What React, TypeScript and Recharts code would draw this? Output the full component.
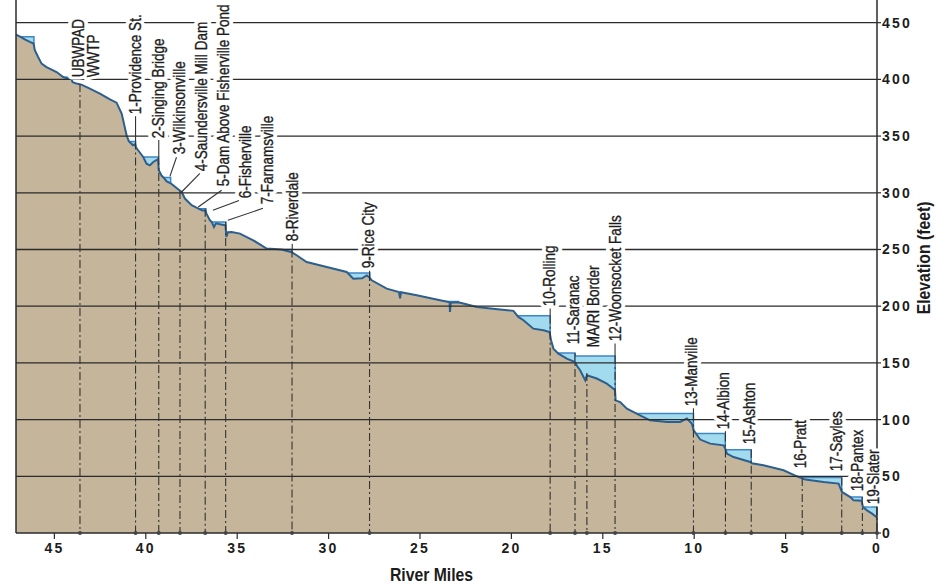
import React from 'react';
import { ComposedChart, Area, XAxis, YAxis, ReferenceLine, ReferenceDot, Label } from 'recharts';

// Axis ticks
const riverMileTicks = [0, 5, 10, 15, 20, 25, 30, 35, 40, 45];
const elevationTicks = [0, 50, 100, 150, 200, 250, 300, 350, 400, 450];
const gridElevations = [50, 100, 150, 200, 250, 300, 350, 400, 450];

// Channel profile: [river mile, elevation (ft)]
const channelProfile: [number, number][] = [
  [47.1, 439.5], [46.85, 437.5], [46.62, 435.3], [46.34, 433.0], [46.14, 431.6], [46.07, 425.7],
  [45.89, 419.7], [45.7, 413.9], [45.43, 410.9], [44.88, 406.5], [44.52, 402.1], [44.3, 401.0],
  [44.07, 400.1], [44.0, 397.5], [43.79, 396.3], [43.52, 395.4], [43.06, 391.9], [42.51, 387.5],
  [41.96, 382.4], [41.6, 379.5], [41.32, 369.8], [41.05, 350.7], [40.93, 345.5], [40.7, 341.9],
  [40.58, 342.8], [40.54, 340.1], [40.42, 337.5], [40.14, 331.6], [39.96, 325.7], [39.78, 324.2],
  [39.59, 327.2], [39.33, 329.6], [39.29, 320.0], [39.13, 315.0], [39.0, 313.0], [38.86, 310.1],
  [38.66, 308.6], [38.5, 306.6], [38.23, 303.1], [38.04, 300.7], [37.86, 294.9], [37.49, 289.0],
  [37.17, 286.5], [36.93, 284.6], [36.73, 284.1], [36.68, 281.6], [36.49, 275.7], [36.38, 274.0],
  [36.27, 269.8], [36.16, 273.1], [35.94, 272.2], [35.64, 271.3], [35.59, 261.0], [35.51, 265.2],
  [35.3, 265.4], [34.85, 264.0], [34.12, 258.1], [33.39, 250.8], [32.57, 249.9], [32.22, 248.4],
  [32.0, 247.5], [31.75, 244.9], [31.2, 239.0], [30.1, 234.6], [29.01, 230.2], [28.65, 224.3],
  [28.17, 224.6], [27.91, 227.2], [27.76, 225.4], [27.64, 222.8], [26.82, 215.5], [26.15, 212.5],
  [26.09, 207.0], [26.04, 212.3], [25.18, 209.6], [23.9, 205.2], [23.63, 204.3], [23.38, 203.4],
  [23.36, 195.0], [23.32, 203.0], [22.92, 203.4], [22.63, 202.3], [21.89, 199.3], [20.62, 197.0],
  [19.89, 195.9], [19.62, 190.5], [19.34, 187.6], [18.8, 180.2], [18.25, 178.7], [17.91, 177.2],
  [17.83, 169.9], [17.7, 162.6], [17.43, 158.2], [16.97, 153.8], [16.52, 150.8], [16.4, 147.0],
  [16.24, 143.5], [15.96, 134.6], [15.87, 139.1], [15.33, 136.2], [14.78, 131.7], [14.42, 127.3],
  [14.33, 125.8], [14.3, 117.0], [14.05, 115.5], [13.68, 109.7], [12.96, 103.8], [12.41, 99.4],
  [11.49, 97.9], [10.77, 97.9], [10.4, 100.9], [10.13, 96.5], [10.03, 90.6], [9.67, 82.4],
  [9.12, 78.8], [8.4, 77.3], [8.3, 74.4], [8.21, 70.0], [7.85, 67.0], [6.93, 62.6], [6.85, 61.5],
  [6.21, 59.7], [5.11, 55.3], [4.38, 50.0], [3.92, 47.1], [2.92, 45.0], [2.1, 43.6], [1.96, 37.7],
  [1.92, 36.2], [1.46, 31.7], [1.28, 28.8], [0.84, 28.4], [0.77, 22.9], [0.55, 20.0], [0.27, 17.1],
  [0.0, 13.6],
];

// Impoundments: [upstream end mile, dam mile, pool elevation (ft)]
const impoundments: [number, number, number][] = [
  [46.85, 46.12, 437.5], [44.4, 44.05, 401.8], [40.93, 40.56, 345.2], [40.14, 39.31, 331.6],
  [39.0, 38.64, 313.5], [37.17, 36.71, 286.0], [36.4, 35.62, 274.2], [32.57, 31.99, 249.9],
  [29.0, 27.74, 229.3], [23.74, 22.9, 204.2], [19.74, 17.88, 191.5], [17.45, 16.52, 158.7],
  [16.52, 14.32, 156.1], [13.2, 10.04, 105.3], [10.04, 8.3, 87.7], [8.25, 6.88, 73.5],
  [4.4, 1.93, 48.9], [1.46, 0.82, 31.7], [0.77, 0.0, 22.9],
];

// Structure markers: [river mile, top of marker line (ft)]
const structureMarkers: [number, number][] = [
  [43.6, 396], [40.56, 345.2], [39.29, 331.6], [38.13, 301.5], [36.75, 286.0], [35.63, 274.2],
  [32.0, 249.9], [27.76, 229.3], [17.88, 191.5], [16.52, 158.7], [15.87, 141.0], [14.33, 156.1],
  [10.04, 105.3], [8.29, 87.7], [6.88, 73.5], [4.09, 48.5], [1.93, 48.9], [0.8, 31.7], [0.0, 22.9],
];

// Dam names
const damNames: string[][] = [
  ['UBWPAD', 'WWTP'], ['1-Providence St.'], ['2-Singing Bridge'], ['3-Wilkinsonville'],
  ['4-Saundersville Mill Dam'], ['5-Dam Above Fisherville Pond'], ['6-Fisherville'],
  ['7-Farnamsville'], ['8-Riverdale'], ['9-Rice City'], ['10-Rolling'], ['11-Saranac'],
  ['MA/RI Border'], ['12-Woonsocket Falls'], ['13-Manville'], ['14-Albion'], ['15-Ashton'],
  ['16-Pratt'], ['17-Sayles'], ['18-Pantex'], ['19-Slater'],
];

// Where each name sits (foot of the rotated text), in [mile, ft]
const nameAnchors: [number, number][] = [
  [43.72, 401.8], [40.57, 369.2], [39.32, 348.0], [38.19, 333.9], [36.95, 318.9], [35.75, 305.7],
  [34.58, 295.1], [33.39, 289.8], [31.98, 257.2], [27.83, 233.4], [17.94, 199.9], [16.62, 166.4],
  [15.53, 163.7], [14.32, 169.0], [10.16, 111.7], [8.44, 91.4], [6.99, 78.2], [4.2, 57.1],
  [2.23, 54.4], [1.09, 36.8], [0.2, 25.3],
];

// Leader lines from names to structures: [[mile, ft], [mile, ft]]
const leaderLines: [number, number][][] = [
  [[40.56, 367.5], [40.56, 345.2]],
  [[39.29, 346.5], [39.29, 331.6]],
  [[38.32, 331.3], [38.68, 314.5]],
  [[37.04, 317.2], [38.04, 300.7]],
  [[35.85, 302.2], [37.13, 287.5]],
  [[34.9, 293.2], [36.33, 284.6]],
  [[33.59, 286.3], [35.51, 275.7]],
  [[31.99, 255.5], [31.99, 249.9]],
  [[27.76, 231.8], [27.76, 229.3]],
  [[17.88, 198.0], [17.88, 191.5]],
  [[14.33, 167.0], [14.33, 156.1]],
  [[10.04, 110.0], [10.04, 105.3]],
  [[8.29, 89.8], [8.29, 87.7]],
];

const channelData = channelProfile.map(([mile, elev]) => ({ mile, elev }));
const poolData = impoundments.map(([from, dam, level]) => [
  { mile: from, level },
  { mile: dam, level },
  { mile: dam, level: 0 },
]);

const SANS = "'Liberation Sans', Arial, Helvetica, sans-serif";
const INK = '#2b2b2b';
const TEXT = '#1c1c1c';

// Rotated, horizontally condensed name tag with a white knock-out behind it
const NameTag = (props: any) => {
  const { cx, cy, lines } = props;
  if (cx == null || cy == null) return null;
  const step = 15;
  const common = {
    x: 0,
    y: 0,
    textAnchor: 'start' as const,
    dy: '0.36em',
    fontFamily: SANS,
    fontSize: 16.5,
  };
  const tf = (i: number) => `translate(${cx + i * step},${cy}) rotate(-90) scale(0.82,1)`;
  return (
    <g>
      {lines.map((t: string, i: number) => (
        <g key={'h' + i} transform={tf(i)}>
          <text {...common} fill="#fff" stroke="#fff" strokeWidth={8} strokeLinejoin="round">
            {t}
          </text>
        </g>
      ))}
      {lines.map((t: string, i: number) => (
        <g key={'t' + i} transform={tf(i)}>
          <text {...common} fill={TEXT} stroke={TEXT} strokeWidth={0.35}>
            {t}
          </text>
        </g>
      ))}
    </g>
  );
};

const tickStyle = {
  fill: TEXT,
  fontSize: 14,
  fontWeight: 700,
  fontFamily: SANS,
  letterSpacing: 2.2,
};

export default function App() {
  return (
    <div style={{ position: 'fixed', left: 0, top: 0, width: 936, height: 585, background: '#fff' }}>
      <ComposedChart width={936} height={585} margin={{ top: 0, right: 0, bottom: 0, left: 16 }}>
        <XAxis
          type="number"
          dataKey="mile"
          domain={[0, 47.1]}
          reversed
          allowDataOverflow
          ticks={riverMileTicks}
          interval={0}
          height={52}
          tickSize={6}
          tickMargin={4}
          tick={tickStyle}
          axisLine={{ stroke: INK, strokeWidth: 1.5 }}
          tickLine={{ stroke: INK, strokeWidth: 1.2 }}
        >
          <Label
            content={(p: any) => {
              const vb = p.viewBox || {};
              const x = vb.x + vb.width / 2 - 15;
              const y = vb.y + vb.height - 4;
              return (
                <g transform={`translate(${x},${y}) scale(0.9,1)`}>
                  <text x={0} y={0} textAnchor="middle" fontFamily={SANS} fontWeight={700} fontSize={17.5} fill={TEXT}>
                    River Miles
                  </text>
                </g>
              );
            }}
          />
        </XAxis>
        <YAxis
          orientation="right"
          type="number"
          domain={[0, 470]}
          allowDataOverflow
          ticks={elevationTicks}
          interval={0}
          width={59}
          tickSize={4}
          tickMargin={1}
          tick={{ ...tickStyle, textAnchor: 'start' }}
          axisLine={{ stroke: INK, strokeWidth: 1.5 }}
          tickLine={{ stroke: INK, strokeWidth: 1.2 }}
        >
          <Label
            content={(p: any) => {
              const vb = p.viewBox || {};
              const x = vb.x + 47;
              const y = 258;
              return (
                <g transform={`translate(${x},${y}) rotate(-90) scale(0.9,1)`}>
                  <text x={0} y={0} dy="0.36em" textAnchor="middle" fontFamily={SANS} fontWeight={700} fontSize={17.5} fill={TEXT}>
                    Elevation (feet)
                  </text>
                </g>
              );
            }}
          />
        </YAxis>

        {poolData.map((d, i) => (
          <Area
            key={'pool' + i}
            data={d}
            dataKey="level"
            type="linear"
            fill="#a3dbee"
            fillOpacity={1}
            stroke="#3f86c6"
            strokeWidth={1.5}
            isAnimationActive={false}
            dot={false}
            activeDot={false}
          />
        ))}
        <Area
          data={channelData}
          dataKey="elev"
          type="linear"
          fill="#c4b59b"
          fillOpacity={1}
          stroke="#2d5f8e"
          strokeWidth={2}
          isAnimationActive={false}
          dot={false}
          activeDot={false}
        />

        <ReferenceLine x={47.1} stroke={INK} strokeWidth={1.5} />
        {gridElevations.map((v) => (
          <ReferenceLine key={'g' + v} y={v} stroke={INK} strokeWidth={1.3} />
        ))}

        {structureMarkers.map(([m, top], i) => (
          <ReferenceLine
            key={'m' + i}
            segment={[{ x: m, y: top }, { x: m, y: 0 }]}
            stroke="#333"
            strokeWidth={1.1}
            strokeDasharray="8 3 2 3"
          />
        ))}
        {structureMarkers.map(([m], i) => (
          <ReferenceDot key={'d' + i} x={m} y={0} r={2} fill="#444" stroke="none" />
        ))}
        {leaderLines.map((seg, i) => (
          <ReferenceLine
            key={'l' + i}
            segment={[{ x: seg[0][0], y: seg[0][1] }, { x: seg[1][0], y: seg[1][1] }]}
            stroke="#333"
            strokeWidth={1.1}
          />
        ))}

        {damNames.map((lines, i) => (
          <ReferenceDot
            key={'n' + i}
            x={nameAnchors[i][0]}
            y={nameAnchors[i][1]}
            r={1}
            shape={(p: any) => <NameTag cx={p.cx} cy={p.cy} lines={lines} />}
          />
        ))}
      </ComposedChart>
    </div>
  );
}
